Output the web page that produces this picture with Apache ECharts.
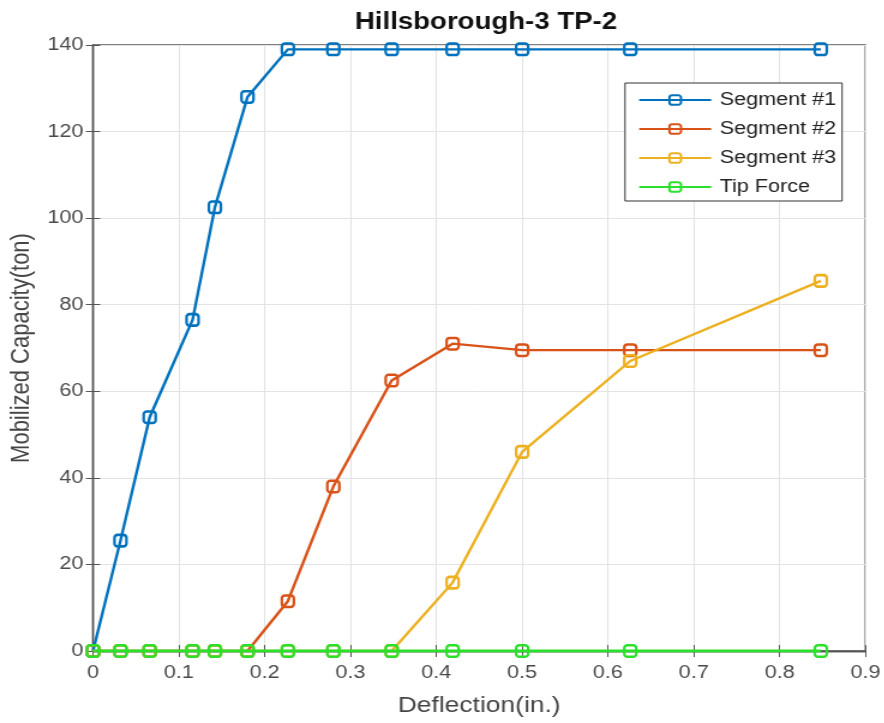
<!DOCTYPE html>
<html>
<head>
<meta charset="utf-8">
<script src="https://cdn.jsdelivr.net/npm/echarts@6/dist/echarts.min.js"></script>
<style>
html,body{margin:0;padding:0;background:#fff;overflow:hidden}
#wrap{width:884px;height:723px;overflow:hidden}
#c{width:736.67px;height:723px;transform:scaleX(1.2);transform-origin:0 0}
</style>
</head>
<body>
<div id="wrap"><div id="c"></div></div>
<script>
var deflection = [0, 0.032, 0.066, 0.116, 0.142, 0.18, 0.227, 0.28, 0.348, 0.419, 0.5, 0.626, 0.848];
var segment1 = [0, 25.5, 54, 76.5, 102.5, 128, 139, 139, 139, 139, 139, 139, 139];
var segment2 = [0, 0, 0, 0, 0, 0, 11.5, 38, 62.5, 71, 69.5, 69.5, 69.5];
var segment3 = [0, 0, 0, 0, 0, 0, 0, 0, 0, 15.8, 46, 67, 85.5];
var tipForce = [0, 0, 0, 0, 0, 0, 0, 0, 0, 0, 0, 0, 0];
var seriesNames = ['Segment #1', 'Segment #2', 'Segment #3', 'Tip Force'];
var seriesColors = ['#0072BD', '#D95319', '#EDB120', '#2BE02B'];
var xTicks = { min: 0, max: 0.9, interval: 0.1 };
var yTicks = { min: 0, max: 140, interval: 20 };

var S = 1.2; // horizontal stretch of the reference picture
function hx(v) { return v / S; }

function pairs(ys) { return deflection.map(function (x, i) { return [x, ys[i]]; }); }
var allValues = [segment1, segment2, segment3, tipForce];

var FONT = 'Liberation Sans, Arial, Helvetica, sans-serif';
var chart = echarts.init(document.getElementById('c'), null, { renderer: 'canvas' });
var series = allValues.map(function (v, i) {
  return {
    name: seriesNames[i], type: 'line', data: pairs(v),
    symbol: 'roundRect', symbolSize: [10, 11.5], showSymbol: true,
    lineStyle: { color: seriesColors[i], width: i === 3 ? 3 : 2.4 },
    itemStyle: { color: 'rgba(255,255,255,0)', borderColor: seriesColors[i], borderWidth: 2.4 },
    z: 2 + i, animation: false
  };
});
var axisTxt = { color: '#4a4a4a', fontSize: 18, fontFamily: FONT };
var frame = { color: '#555', width: 1.3 };
chart.setOption({
  animation: false,
  title: { text: 'Hillsborough-3 TP-2', left: hx(480), top: 6, textAlign: 'center',
    textStyle: { fontSize: 23, fontWeight: 'bold', color: '#111', fontFamily: FONT } },
  grid: { left: hx(93), right: hx(884 - 865), top: 45, bottom: 72, show: true, borderColor: '#555', borderWidth: 1.3, backgroundColor: '#fff',
    outerBoundsMode: 'none', containLabel: false },
  legend: {
    data: seriesNames, orient: 'vertical', left: hx(625), top: 83,
    backgroundColor: '#fff', borderColor: '#333', borderWidth: 1, padding: [8, hx(6), 5, hx(13)],
    itemWidth: hx(72), itemHeight: 12, itemGap: 11,
    textStyle: { fontSize: 18, color: '#222', fontFamily: FONT, padding: [0, 0, 0, 2] },
    selectedMode: false
  },
  xAxis: [{
    type: 'value', min: xTicks.min, max: xTicks.max, interval: xTicks.interval,
    name: 'Deflection(in.)', nameLocation: 'middle', nameGap: 44,
    nameTextStyle: { fontSize: 22, color: '#454545', fontFamily: FONT },
    axisLine: { show: true, lineStyle: frame },
    axisTick: { show: true, inside: true, length: 6, lineStyle: { color: '#555' } },
    axisLabel: Object.assign({ margin: 13, formatter: function (v) { return String(+v.toFixed(1)); } }, axisTxt),
    splitLine: { show: true, lineStyle: { color: '#e3e3e3', width: 1 } }
  }, {
    type: 'value', min: xTicks.min, max: xTicks.max, interval: xTicks.interval, position: 'top',
    axisLine: { show: true, lineStyle: frame },
    axisTick: { show: true, inside: true, length: 6, lineStyle: { color: '#555' } },
    axisLabel: { show: false }, splitLine: { show: false }
  }],
  yAxis: [{
    type: 'value', min: yTicks.min, max: yTicks.max, interval: yTicks.interval,
    name: 'Mobilized Capacity(ton)', nameLocation: 'middle', nameGap: 43,
    nameTextStyle: { fontSize: 22, color: '#454545', fontFamily: FONT },
    axisLine: { show: true, lineStyle: frame },
    axisTick: { show: true, inside: true, length: 6, lineStyle: { color: '#555' } },
    axisLabel: Object.assign({ margin: 8 }, axisTxt),
    splitLine: { show: true, lineStyle: { color: '#e3e3e3', width: 1 } }
  }, {
    type: 'value', min: yTicks.min, max: yTicks.max, interval: yTicks.interval, position: 'right',
    axisLine: { show: true, lineStyle: frame },
    axisTick: { show: true, inside: true, length: 6, lineStyle: { color: '#555' } },
    axisLabel: { show: false }, splitLine: { show: false }
  }],
  series: series
});
</script>
</body>
</html>
